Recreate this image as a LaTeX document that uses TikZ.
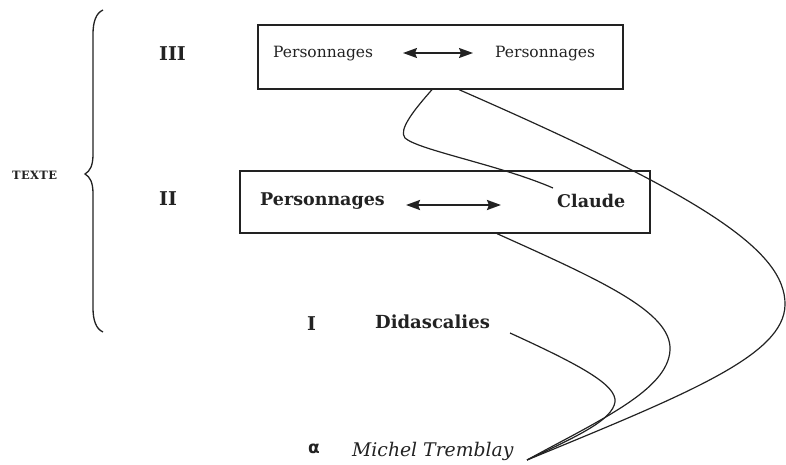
\documentclass[tikz,border=0pt]{standalone}
\usepackage{fontspec}
\setmainfont{DejaVu Serif}
\newfontfamily\greekfont{DejaVu Sans}
\usetikzlibrary{arrows.meta}
\definecolor{ink}{HTML}{222222}
\tikzset{
  lab/.style={anchor=base west, inner sep=0pt, text=ink},
  levelbox/.style={draw=ink, line width=1.3pt, inner sep=0pt},
  link/.style={draw=ink, line width=1.2pt},
  dblarrow/.style={draw=ink, {Stealth[length=14pt,width=10pt,inset=2pt]}-{Stealth[length=14pt,width=10pt,inset=2pt]}},
}
\begin{document}
\begin{tikzpicture}[x=1pt, y=-1pt]
\useasboundingbox (0,0) rectangle (786,465);

% left brace grouping the three text levels
\draw[ink, line width=1.3pt]
  (103,10) .. controls (96,13) and (93,22) .. (93,34) -- (93,154)
  .. controls (93,166) and (90,171) .. (85,174)
  .. controls (90,177) and (93,182) .. (93,194) -- (93,308)
  .. controls (93,320) and (96,329) .. (103,332);
\node[lab, font=\fontsize{11.5}{13}\selectfont\bfseries\addfontfeature{LetterSpace=3}] (texte) at (12,179) {TEXTE};

% level labels
\node[lab, font=\fontsize{19}{21}\selectfont\bfseries] (l3) at (159,61) {III};
\node[lab, font=\fontsize{19}{21}\selectfont\bfseries] (l2) at (159,205) {II};
\node[lab, font=\fontsize{19}{21}\selectfont\bfseries] (l1) at (307,330) {I};
\node[lab, font=\greekfont\fontsize{17}{20}\selectfont\bfseries] (la) at (308,453) {α};

% level III box
\node[levelbox, minimum width=365pt, minimum height=64pt] (b3) at (440.5,57) {};
\node[lab, font=\fontsize{15.5}{18}\selectfont] (p3a) at (273,58) {Personnages};
\node[lab, font=\fontsize{15.5}{18}\selectfont] (p3b) at (495,58) {Personnages};
\coordinate (a3l) at (403,53);
\coordinate (a3r) at (473,53);
\draw[dblarrow, line width=1.4pt] (a3l) -- (a3r);

% level II box
\node[levelbox, minimum width=410pt, minimum height=62pt] (b2) at (445,202) {};
\node[lab, font=\fontsize{17.5}{20}\selectfont\bfseries] (p2) at (260,205) {Personnages};
\node[lab, font=\fontsize{17.5}{20}\selectfont\bfseries] (cl) at (557,207) {Claude};
\coordinate (a2l) at (406,205);
\coordinate (a2r) at (501,205);
\draw[dblarrow, line width=2.2pt] (a2l) -- (a2r);

% level I and author
\node[lab, font=\fontsize{18}{20}\selectfont\bfseries] (dd) at (375,328) {Didascalies};
\node[lab, font=\fontsize{18.8}{22}\selectfont\itshape] (mt) at (352,456) {Michel Tremblay};

% curve ends
\coordinate (clend) at (553,188);
\coordinate (ddend) at (510,333);
\coordinate (root) at (527,460);

% connecting curves
\draw[link] ([xshift=-8.5pt]b3.south)
  .. controls (414,110) and (398,130) .. (405,138)
  .. controls (418,150) and (500,165) .. (clend);
\draw[link] ([xshift=18.5pt]b3.south)
  .. controls (700,195) and (786,250) .. (785,305)
  .. controls (784,355) and (690,393) .. (root);
\draw[link] ([xshift=52pt]b2.south)
  .. controls (600,280) and (672,312) .. (670,350)
  .. controls (668,390) and (600,420) .. (root);
\draw[link] (ddend)
  .. controls (580,365) and (617,385) .. (615,402)
  .. controls (612,420) and (580,435) .. (root);
\end{tikzpicture}
\end{document}
